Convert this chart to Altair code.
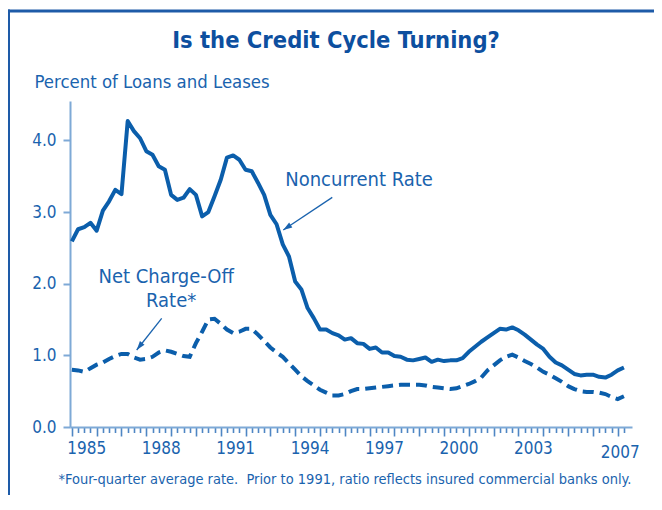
import altair as alt
import pandas as pd

# ---------------- data (quarterly, 1985Q1 - 2007Q2) ----------------
start_year = 1985
year_labels = [1985, 1988, 1991, 1994, 1997, 2000, 2003, 2007]

noncurrent = [
    2.59, 2.76, 2.79, 2.85, 2.74, 3.02, 3.15, 3.31, 3.25, 4.27,
    4.13, 4.03, 3.85, 3.80, 3.64, 3.59, 3.24, 3.17, 3.20, 3.32,
    3.24, 2.94, 3.00, 3.22, 3.45, 3.76, 3.79, 3.73, 3.59, 3.57,
    3.41, 3.24, 2.96, 2.83, 2.55, 2.38, 2.03, 1.92, 1.66, 1.52,
    1.36, 1.36, 1.31, 1.28, 1.22, 1.24, 1.17, 1.16, 1.09, 1.11,
    1.04, 1.04, 0.99, 0.98, 0.94, 0.93, 0.95, 0.97, 0.91, 0.94,
    0.92, 0.93, 0.93, 0.96, 1.05, 1.12, 1.19, 1.25, 1.31, 1.37,
    1.36, 1.39, 1.35, 1.29, 1.22, 1.15, 1.09, 0.98, 0.90, 0.86,
    0.80, 0.74, 0.72, 0.73, 0.73, 0.70, 0.69, 0.73, 0.79, 0.83,
]
chargeoff = [
    0.80, 0.79, 0.77, 0.82, 0.87, 0.90, 0.95, 0.99, 1.02, 1.02,
    0.97, 0.94, 0.95, 0.98, 1.04, 1.07, 1.05, 1.02, 0.99, 0.98,
    1.17, 1.33, 1.50, 1.51, 1.44, 1.36, 1.31, 1.33, 1.37, 1.37,
    1.29, 1.20, 1.11, 1.04, 0.98, 0.89, 0.80, 0.71, 0.64, 0.58,
    0.52, 0.48, 0.44, 0.44, 0.46, 0.50, 0.53, 0.53, 0.54, 0.55,
    0.56, 0.57, 0.58, 0.59, 0.59, 0.59, 0.59, 0.58, 0.56, 0.55,
    0.54, 0.53, 0.54, 0.57, 0.60, 0.64, 0.69, 0.79, 0.86, 0.93,
    0.98, 1.01, 0.97, 0.92, 0.88, 0.83, 0.77, 0.73, 0.68, 0.63,
    0.57, 0.53, 0.50, 0.49, 0.49, 0.48, 0.46, 0.42, 0.39, 0.43,
]

n = len(noncurrent)
quarter_idx = list(range(n))
period = [f"{start_year + i // 4}Q{i % 4 + 1}" for i in quarter_idx]

# annotation texts and their anchor positions (quarter index, rate)
ann_text = ["Noncurrent Rate", "Net Charge-Off", "Rate*"]
ann_q = [46.3, 15.2, 16.0]
ann_v = [3.36, 2.01, 1.68]

arrow_q1 = [41.98, 14.48]
arrow_v1 = [3.205, 1.517]
arrow_q2 = [34.08, 10.45]
arrow_v2 = [2.749, 1.075]
arrow_angle = [236, 218]

footnote = "*Four-quarter average rate.\u00a0 Prior to 1991, ratio reflects insured commercial banks only."
title_text = "Is the Credit Cycle Turning?"
y_title = "Percent of Loans and Leases"

# ---------------- styling ----------------
FONT = "Liberation Sans Narrow, DejaVu Sans Condensed, Roboto, sans-serif"
LINE = "#0b5eab"
TEXT = "#1a63ae"
TITLE = "#0d4f9f"
LIGHT = "#7ea9d6"
TICK = "#4f86c4"
FRAME = "#1e5ba8"

W, H = 562, 326

df = pd.DataFrame({"q": quarter_idx, "period": period,
                   "noncurrent": noncurrent, "chargeoff": chargeoff})

label_q = [4 * (y - start_year) + 2 if 4 * (y - start_year) + 2 < n else 4 * (y - start_year)
           for y in year_labels]
label_expr = (f"indexof({label_q}, datum.value) >= 0 ? "
              f"'' + ({start_year} + floor(datum.value / 4)) : ''")

x_scale = alt.Scale(domain=[-0.3, 90.3], nice=False, zero=False)
y_scale = alt.Scale(domain=[0, 4.55], nice=False)

x_axis = alt.Axis(
    values=quarter_idx, tickCount=400, labelExpr=label_expr, title=None, grid=False,
    tickSize=alt.condition("datum.value % 4 === 0", alt.value(9), alt.value(5.5)),
    tickColor=TICK, tickWidth=1.6, domainColor=LIGHT, domainWidth=2,
    labelColor=TEXT, labelFont=FONT, labelFontSize=17, labelPadding=8,
    labelOffset=2, labelOverlap=False, labelFlush=False, labelBound=False,
)
y_axis = alt.Axis(
    values=[0, 1, 2, 3, 4], format=".1f", grid=False,
    tickSize=7, tickColor=LIGHT, tickWidth=2, domainColor=LIGHT, domainWidth=2,
    labelColor=TEXT, labelFont=FONT, labelFontSize=17, labelPadding=7,
    title=y_title, titleAngle=0, titleAlign="left", titleBaseline="alphabetic",
    titleX=-36, titleY=-14, titleFont=FONT, titleFontSize=18.4,
    titleFontWeight="normal", titleColor=TEXT,
)

base = alt.Chart(df)

solid = base.mark_line(color=LINE, strokeWidth=4, strokeJoin="round").encode(
    x=alt.X("q:Q", scale=x_scale, axis=x_axis),
    y=alt.Y("noncurrent:Q", scale=y_scale, axis=y_axis),
    tooltip=["period", "noncurrent"],
)
dashed = base.mark_line(color=LINE, strokeWidth=4, strokeDash=[11, 6]).encode(
    x=alt.X("q:Q", scale=x_scale),
    y=alt.Y("chargeoff:Q", scale=y_scale),
    tooltip=["period", "chargeoff"],
)

ann_df = pd.DataFrame({"text": ann_text, "q": ann_q, "v": ann_v})
ann = alt.Chart(ann_df).mark_text(
    font=FONT, fontSize=20, color=TEXT, align="center", baseline="alphabetic"
).encode(x=alt.X("q:Q", scale=x_scale), y=alt.Y("v:Q", scale=y_scale), text="text:N")

arr_df = pd.DataFrame({"q1": arrow_q1, "v1": arrow_v1, "q2": arrow_q2,
                       "v2": arrow_v2, "angle": arrow_angle})
arr_line = alt.Chart(arr_df).mark_rule(color=TEXT, strokeWidth=1.3).encode(
    x=alt.X("q1:Q", scale=x_scale), y=alt.Y("v1:Q", scale=y_scale),
    x2="q2:Q", y2="v2:Q",
)
arr_head = alt.Chart(arr_df).mark_point(
    shape="M0,0L0.32,1L-0.32,1Z", size=324, filled=True, opacity=1, color=TEXT
).encode(
    x=alt.X("q2:Q", scale=x_scale), y=alt.Y("v2:Q", scale=y_scale),
    angle=alt.Angle("angle:Q", scale=None),
)

one = pd.DataFrame({"t": [footnote]})
foot = alt.Chart(one).mark_text(
    font=FONT, fontSize=14.5, color=TEXT, align="center", baseline="alphabetic"
).encode(text="t:N", x=alt.value(275), y=alt.value(383))

title_df = pd.DataFrame({"t": [title_text]})
title = alt.Chart(title_df).mark_text(
    font=FONT, fontSize=23.5, fontWeight="bold", color=TITLE,
    align="center", baseline="alphabetic"
).encode(text="t:N", x=alt.value(266), y=alt.value(-53))

frame_left = alt.Chart(one).mark_rule(color=FRAME, strokeWidth=3).encode(
    x=alt.value(-61.5), y=alt.value(-91.5), y2=alt.value(410))
frame_top = alt.Chart(one).mark_rule(color=FRAME, strokeWidth=3).encode(
    x=alt.value(-63), x2=alt.value(600), y=alt.value(-90))

chart = alt.layer(
    frame_left, frame_top, dashed, solid, arr_line, arr_head, ann, foot, title
).properties(
    width=W, height=H,
    padding={"left": 62, "top": 93, "right": 22, "bottom": 68},
    autosize=alt.AutoSizeParams(type="none"),
).configure_view(stroke=None)

chart.save("out.html", embed_options={"renderer": "svg", "actions": False})
